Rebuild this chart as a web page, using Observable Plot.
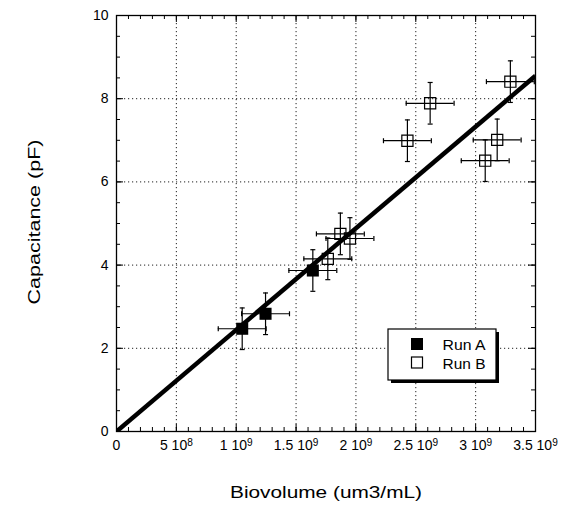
<!DOCTYPE html>
<html><head><meta charset="utf-8">
<script src="https://cdn.jsdelivr.net/npm/d3@7"></script>
<script src="https://cdn.jsdelivr.net/npm/@observablehq/plot@0.6"></script>
<style>body{margin:0;background:#fff}</style>
</head><body><div id="chart"></div>
<script>
// Run A (filled squares)
const runAX = [1.05e9, 1.245e9, 1.64e9];
const runAY = [2.47, 2.83, 3.87];
// Run B (open squares)
const runBX = [1.765e9, 1.87e9, 1.95e9, 2.43e9, 2.62e9, 3.08e9, 3.18e9, 3.29e9];
const runBY = [4.15, 4.75, 4.64, 6.99, 7.89, 6.51, 7.01, 8.41];
// error bar half-widths
const xErr = 2e8;
const yErr = 0.5;
// fitted line through origin
const fitX = [0, 3.5e9];
const fitY = [0, 8.55];
// ticks
const xMajorTicks = [0, 5e8, 1e9, 1.5e9, 2e9, 2.5e9, 3e9, 3.5e9];
const xTickLabels = ["0", "5 10^8", "1 10^9", "1.5 10^9", "2 10^9", "2.5 10^9", "3 10^9", "3.5 10^9"];
const yMajorTicks = [0, 2, 4, 6, 8, 10];
const yTickLabels = ["0", "2", "4", "6", "8", "10"];
const xGridTicks = [5e8, 1e9, 1.5e9, 2e9, 2.5e9, 3e9];
const yGridTicks = [2, 4, 6, 8];
const xMinorTicks = d3.range(0, 36).map(i => i * 1e8);
const yMinorTicks = d3.range(0, 21).map(i => i * 0.5);
const legendLabels = ["Run A", "Run B"];

const pts = [
  ...runAX.map((x, i) => ({x, y: runAY[i], run: "A"})),
  ...runBX.map((x, i) => ({x, y: runBY[i], run: "B"}))
];
const fit = fitX.map((x, i) => ({x, y: fitY[i]}));

const W = 567, H = 506, mL = 116, mR = 32, mT = 15, mB = 75;
const pw = W - mL - mR, ph = H - mT - mB;

const capV = {draw(ctx, size) { const r = Math.sqrt(size / Math.PI); ctx.moveTo(0, -r); ctx.lineTo(0, r); }};
const capH = {draw(ctx, size) { const r = Math.sqrt(size / Math.PI); ctx.moveTo(-r, 0); ctx.lineTo(r, 0); }};

const plot = Plot.plot({
  width: W, height: H,
  marginLeft: mL, marginRight: mR, marginTop: mT, marginBottom: mB,
  x: {domain: [0, 3.5e9]},
  y: {domain: [0, 10]},
  style: {fontFamily: "'Liberation Sans', Arial, sans-serif", fontSize: "14px", color: "black", background: "white"},
  marks: [
    Plot.ruleX(xGridTicks, {stroke: "#222", strokeDasharray: "1.2,2.8", strokeWidth: 1}),
    Plot.ruleY(yGridTicks, {stroke: "#222", strokeDasharray: "1.2,2.8", strokeWidth: 1}),
    // inward ticks: bottom/top
    Plot.tickX(xMinorTicks, {x: d => d, insetTop: ph - 4, stroke: "black"}),
    Plot.tickX(xMinorTicks, {x: d => d, insetBottom: ph - 4, stroke: "black"}),
    Plot.tickX(xMajorTicks, {x: d => d, insetTop: ph - 7, stroke: "black"}),
    Plot.tickX(xMajorTicks, {x: d => d, insetBottom: ph - 7, stroke: "black"}),
    // inward ticks: left/right
    Plot.tickY(yMinorTicks, {y: d => d, insetRight: pw - 4, stroke: "black"}),
    Plot.tickY(yMinorTicks, {y: d => d, insetLeft: pw - 4, stroke: "black"}),
    Plot.tickY(yMajorTicks, {y: d => d, insetRight: pw - 7, stroke: "black"}),
    Plot.tickY(yMajorTicks, {y: d => d, insetLeft: pw - 7, stroke: "black"}),
    Plot.frame({stroke: "black", strokeWidth: 1.3}),
    Plot.line(fit, {x: "x", y: "y", stroke: "black", strokeWidth: 4.5, strokeLinecap: "butt", clip: true}),
    // error bars
    Plot.ruleY(pts, {y: "y", x1: d => d.x - xErr, x2: d => d.x + xErr, stroke: "black", strokeWidth: 1.2}),
    Plot.ruleX(pts, {x: "x", y1: d => d.y - yErr, y2: d => d.y + yErr, stroke: "black", strokeWidth: 1.2}),
    Plot.dot(pts, {x: d => d.x - xErr, y: "y", symbol: capV, r: 2.5, stroke: "black", strokeWidth: 1.2, fill: "none"}),
    Plot.dot(pts, {x: d => d.x + xErr, y: "y", symbol: capV, r: 2.5, stroke: "black", strokeWidth: 1.2, fill: "none"}),
    Plot.dot(pts, {x: "x", y: d => d.y - yErr, symbol: capH, r: 2.5, stroke: "black", strokeWidth: 1.2, fill: "none"}),
    Plot.dot(pts, {x: "x", y: d => d.y + yErr, symbol: capH, r: 2.5, stroke: "black", strokeWidth: 1.2, fill: "none"}),
    // markers
    Plot.dot(pts.filter(d => d.run === "A"), {x: "x", y: "y", symbol: "square", r: 6.8, fill: "black", stroke: "none"}),
    Plot.dot(pts.filter(d => d.run === "B"), {x: "x", y: "y", symbol: "square", r: 6.3, fill: "none", stroke: "black", strokeWidth: 1.2}),
    // axes labels
    Plot.axisX({ticks: xMajorTicks, tickSize: 0, tickPadding: 9, fontSize: 14, label: null,
      tickFormat: d => xTickLabels[xMajorTicks.indexOf(d)]}),
    Plot.axisY({ticks: yMajorTicks, tickSize: 0, tickPadding: 8, fontSize: 14, label: null,
      tickFormat: d => yTickLabels[yMajorTicks.indexOf(d)]})
  ]
});

document.getElementById("chart").appendChild(plot);
const svg = d3.select(plot);

// superscript exponents on x tick labels
svg.selectAll('g[aria-label="x-axis tick label"] text').each(function() {
  const t = d3.select(this);
  const s = t.text();
  const m = s.match(/^(.*)\^(\d+)$/);
  if (!m) return;
  t.text(null);
  t.append("tspan").text(m[1]);
  t.append("tspan").attr("dy", "-0.45em").attr("font-size", "0.72em").text(m[2]);
});

// axis titles
svg.append("text").attr("x", 326).attr("y", 498).attr("text-anchor", "middle")
  .attr("font-size", 17).attr("textLength", 192).attr("lengthAdjust", "spacingAndGlyphs")
  .attr("fill", "black").text("Biovolume (um3/mL)");
svg.append("text").attr("transform", "translate(40,222) rotate(-90)").attr("text-anchor", "middle")
  .attr("font-size", 17).attr("textLength", 165).attr("lengthAdjust", "spacingAndGlyphs")
  .attr("fill", "black").text("Capacitance (pF)");

// legend
const lg = svg.append("g").attr("text-anchor", "start");
lg.append("rect").attr("x", 391).attr("y", 332).attr("width", 108).attr("height", 51).attr("fill", "black");
lg.append("rect").attr("x", 388).attr("y", 329).attr("width", 108).attr("height", 51).attr("fill", "white").attr("stroke", "black").attr("stroke-width", 1.2);
lg.append("rect").attr("x", 411).attr("y", 338).attr("width", 12).attr("height", 12).attr("fill", "black");
lg.append("rect").attr("x", 411.5).attr("y", 357).attr("width", 11).attr("height", 11).attr("fill", "none").attr("stroke", "black").attr("stroke-width", 1.2);
lg.append("text").attr("x", 442.5).attr("y", 349.5).attr("text-anchor", "start").attr("font-size", 15).attr("textLength", 43).attr("lengthAdjust", "spacingAndGlyphs").text(legendLabels[0]);
lg.append("text").attr("x", 442.5).attr("y", 368.5).attr("text-anchor", "start").attr("font-size", 15).attr("textLength", 43).attr("lengthAdjust", "spacingAndGlyphs").text(legendLabels[1]);
</script></body></html>
